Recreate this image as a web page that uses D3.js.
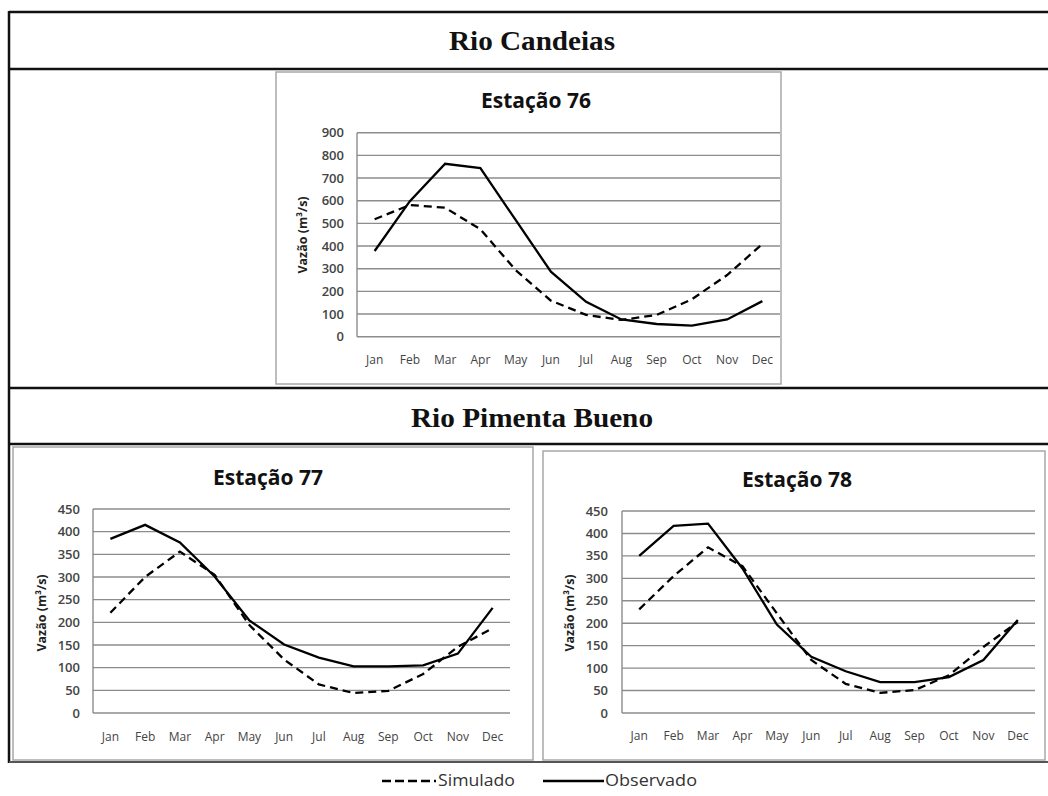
<!DOCTYPE html>
<html>
<head>
<meta charset="utf-8">
<script src="https://cdn.jsdelivr.net/npm/d3@7"></script>
<style>
  html, body { margin: 0; padding: 0; background: #fff; }
  svg { display: block; }
</style>
</head>
<body>
<script>
// ---------- DATA ----------
const months = ["Jan","Feb","Mar","Apr","May","Jun","Jul","Aug","Sep","Oct","Nov","Dec"];
const ticks76 = [0,100,200,300,400,500,600,700,800,900];
const ticksPB = [0,50,100,150,200,250,300,350,400,450];

const obs76 = [378, 598, 763, 744, 515, 287, 154, 76, 56, 49, 76, 157];
const sim76 = [518, 581, 569, 474, 294, 159, 96, 74, 96, 165, 272, 409];

const obs77 = [384, 415, 376, 301, 204, 151, 122, 103, 103, 105, 131, 232];
const sim77 = [221, 300, 356, 305, 194, 118, 63, 44, 49, 86, 146, 187];

const obs78 = [350, 417, 422, 322, 197, 125, 93, 69, 69, 80, 118, 207];
const sim78 = [231, 305, 369, 327, 222, 118, 65, 45, 51, 84, 147, 203];

const riverTitles = ["Rio Candeias", "Rio Pimenta Bueno"];
const stationTitles = ["Estação 76", "Estação 77", "Estação 78"];
const yAxisLabel = "Vazão (m³/s)";
const legendLabels = ["Simulado", "Observado"];

// ---------- DRAW ----------
const W = 1048, H = 796;
const svg = d3.select("body").append("svg").attr("width", W).attr("height", H);
svg.append("rect").attr("width", W).attr("height", H).attr("fill", "#fff");

const chartFont = "'Open Sans', 'DejaVu Sans', sans-serif";
const serif = "'Liberation Serif', 'DejaVu Serif', serif";

// Section frames
const frame = svg.append("g").attr("fill", "none").attr("stroke", "#111").attr("stroke-width", 2.5);
frame.append("line").attr("x1", 9).attr("x2", W + 5).attr("y1", 12).attr("y2", 12);
frame.append("line").attr("x1", 9).attr("x2", W + 5).attr("y1", 69).attr("y2", 69);
frame.append("line").attr("x1", 9).attr("x2", W + 5).attr("y1", 388).attr("y2", 388);
frame.append("line").attr("x1", 9).attr("x2", W + 5).attr("y1", 444).attr("y2", 444);
frame.append("line").attr("x1", 9).attr("x2", 9).attr("y1", 11).attr("y2", 763);
svg.append("line").attr("x1", 9).attr("x2", W + 5).attr("y1", 762).attr("y2", 762)
  .attr("stroke", "#555").attr("stroke-width", 2);

svg.append("text").attr("x", 532).attr("y", 50).attr("text-anchor", "middle")
  .attr("font-family", serif).attr("font-weight", "bold").attr("font-size", 28)
  .attr("textLength", 166).attr("lengthAdjust", "spacingAndGlyphs")
  .attr("fill", "#111").text(riverTitles[0]);
svg.append("text").attr("x", 532).attr("y", 427).attr("text-anchor", "middle")
  .attr("font-family", serif).attr("font-weight", "bold").attr("font-size", 28)
  .attr("textLength", 242).attr("lengthAdjust", "spacingAndGlyphs")
  .attr("fill", "#111").text(riverTitles[1]);

function drawChart(cfg) {
  const g = svg.append("g");
  g.append("rect").attr("x", cfg.box[0]).attr("y", cfg.box[1])
    .attr("width", cfg.box[2]).attr("height", cfg.box[3])
    .attr("fill", "#fff").attr("stroke", "#a8a8a8").attr("stroke-width", 1.5);

  const x = d3.scaleBand().domain(months).range([cfg.left, cfg.right]).padding(0);
  const y = d3.scaleLinear().domain([0, d3.max(cfg.ticks)]).range([cfg.bottom, cfg.top]);
  const cx = m => x(m) + x.bandwidth() / 2;

  // gridlines
  g.append("g").selectAll("line").data(cfg.ticks).join("line")
    .attr("x1", cfg.left).attr("x2", cfg.right)
    .attr("y1", d => y(d)).attr("y2", d => y(d))
    .attr("stroke", "#8c8c8c").attr("stroke-width", 1.4);
  // vertical axis line
  g.append("line").attr("x1", cfg.left).attr("x2", cfg.left)
    .attr("y1", y(d3.max(cfg.ticks))).attr("y2", y(0))
    .attr("stroke", "#8c8c8c").attr("stroke-width", 1.4);

  // y tick labels
  g.append("g").selectAll("text").data(cfg.ticks).join("text")
    .attr("x", cfg.tickRight).attr("y", d => y(d)).attr("dy", "0.35em")
    .attr("text-anchor", "end").attr("font-family", chartFont).attr("font-size", 13)
    .attr("font-weight", 600).attr("fill", "#444").text(d => d);
  // x labels
  g.append("g").selectAll("text").data(months).join("text")
    .attr("x", d => cx(d)).attr("y", cfg.xlabY)
    .attr("text-anchor", "middle").attr("font-family", chartFont).attr("font-size", 12)
    .attr("fill", "#444").text(d => d);

  // title
  g.append("text").attr("x", cfg.titleX).attr("y", cfg.titleY).attr("text-anchor", "middle")
    .attr("font-family", chartFont).attr("font-weight", "bold").attr("font-size", 21)
    .attr("fill", "#111").text(cfg.title);

  // y axis label
  g.append("text").attr("transform", `translate(${cfg.ylabX},${cfg.ylabY}) rotate(-90)`)
    .attr("text-anchor", "middle").attr("dy", "0.35em")
    .attr("font-family", chartFont).attr("font-weight", "bold").attr("font-size", 12.5)
    .attr("fill", "#222").text(yAxisLabel);

  const line = d3.line().x((d, i) => cx(months[i])).y(d => y(d));
  g.append("path").datum(cfg.sim).attr("d", line).attr("fill", "none")
    .attr("stroke", "#000").attr("stroke-width", 2.3).attr("stroke-dasharray", "8,5");
  g.append("path").datum(cfg.obs).attr("d", line).attr("fill", "none")
    .attr("stroke", "#000").attr("stroke-width", 2.3);
}

drawChart({ box: [276, 72, 505, 312], left: 357, right: 780, top: 132.7, bottom: 336.7,
  ticks: ticks76, tickRight: 344, xlabY: 364, title: stationTitles[0], titleX: 536, titleY: 108,
  ylabX: 303, ylabY: 235, obs: obs76, sim: sim76 });

drawChart({ box: [13, 447, 520, 313], left: 93, right: 510, top: 509, bottom: 713,
  ticks: ticksPB, tickRight: 80, xlabY: 741, title: stationTitles[1], titleX: 268, titleY: 485,
  ylabX: 42, ylabY: 613, obs: obs77, sim: sim77 });

drawChart({ box: [543, 451, 502, 309], left: 622, right: 1035, top: 511, bottom: 713,
  ticks: ticksPB, tickRight: 608, xlabY: 740, title: stationTitles[2], titleX: 797, titleY: 487,
  ylabX: 570, ylabY: 613, obs: obs78, sim: sim78 });

// legend
const lg = svg.append("g");
lg.append("line").attr("x1", 382).attr("x2", 436).attr("y1", 781).attr("y2", 781)
  .attr("stroke", "#000").attr("stroke-width", 2.6).attr("stroke-dasharray", "9,4");
lg.append("text").attr("x", 438).attr("y", 781).attr("dy", "0.35em")
  .attr("font-family", chartFont).attr("font-size", 15.5).attr("fill", "#333")
  .attr("textLength", 77).attr("lengthAdjust", "spacingAndGlyphs").text(legendLabels[0]);
lg.append("line").attr("x1", 543).attr("x2", 604).attr("y1", 781).attr("y2", 781)
  .attr("stroke", "#000").attr("stroke-width", 2.6);
lg.append("text").attr("x", 605).attr("y", 781).attr("dy", "0.35em")
  .attr("font-family", chartFont).attr("font-size", 15.5).attr("fill", "#333")
  .attr("textLength", 92).attr("lengthAdjust", "spacingAndGlyphs").text(legendLabels[1]);
</script>
</body>
</html>
